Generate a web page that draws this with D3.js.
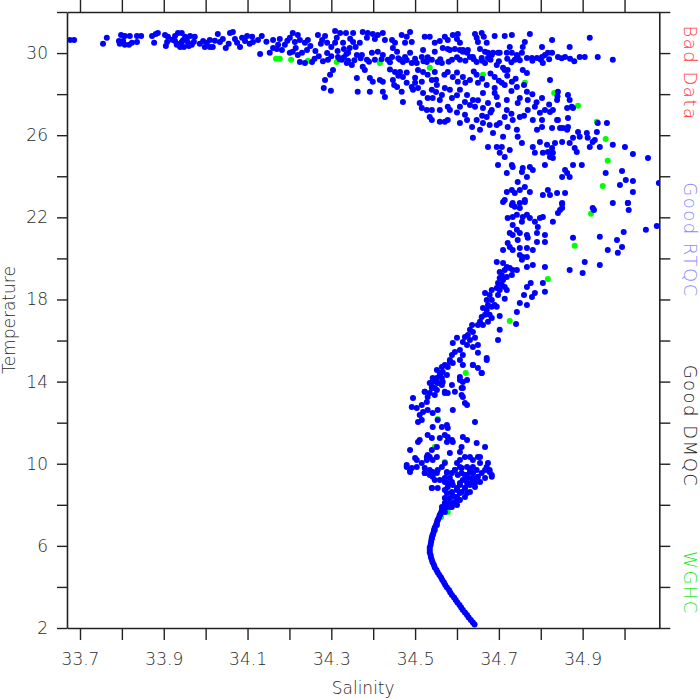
<!DOCTYPE html>
<html><head><meta charset="utf-8">
<script src="https://cdn.jsdelivr.net/npm/d3@7"></script>
<style>
body{margin:0;background:#fff;}
svg text{font-family:"DejaVu Sans",sans-serif;font-weight:200;}
</style></head><body>
<svg id="chart" width="700" height="700"></svg>
<script>
// ---------- data ----------
const salinityDomain = [33.669, 35.083];
const temperatureDomain = [2, 32];
const salinityTicks = [33.7,33.8,33.9,34.0,34.1,34.2,34.3,34.4,34.5,34.6,34.7,34.8,34.9,35.0];
const salinityLabels = [33.7,33.9,34.1,34.3,34.5,34.7,34.9];
const temperatureTicks = [2,4,6,8,10,12,14,16,18,20,22,24,26,28,30,32];
const temperatureLabels = [2,6,10,14,18,22,26,30];
const qcLabels = ["Bad Data","Good RTQC","Good DMQC","WGHC"];
const qcColors = ["#ff3b3b","#8a8aff","#222222","#1ee81e"];
const xTitle = "Salinity";
const yTitle = "Temperature";

// surface mixed layer (blue)
const surfaceLayer = [[33.676,30.64],[33.686,30.64],[33.755,30.45],[33.764,30.74],[33.798,30.88],[33.807,30.83],[33.819,30.83],[33.793,30.59],[33.795,30.45],[33.807,30.40],[33.817,30.40],[33.824,30.50],[33.803,30.59],[33.836,30.83],[33.846,30.83],[33.836,30.54],[33.872,30.83],[33.881,30.93],[33.886,30.98],[33.877,30.50],[33.903,30.88],[33.910,30.79],[33.908,30.54],[33.905,30.35],[33.927,30.83],[33.934,30.98],[33.943,30.98],[33.927,30.59],[33.931,30.40],[33.939,30.30],[33.948,30.30],[33.943,30.54],[33.955,30.69],[33.958,30.50],[33.967,30.40],[33.974,30.79],[33.963,30.83],[33.951,30.79],[33.994,30.59],[34.003,30.50],[33.998,30.30],[34.010,30.30],[34.017,30.30],[34.010,30.64],[34.029,30.93],[34.034,30.54],[34.041,30.69],[34.048,30.25],[34.058,30.98],[34.065,31.03],[34.070,30.69],[34.082,30.30],[34.087,30.74],[34.094,30.59],[34.099,30.83],[34.111,30.79],[34.113,30.54],[34.125,30.64],[34.134,30.83],[34.130,29.96],[34.153,30.01],[34.161,30.25],[34.161,30.64],[34.173,30.40],[34.177,30.69],[34.182,30.15],[34.189,30.40],[34.201,30.74],[34.208,30.98],[34.213,30.54],[34.220,30.88],[34.225,30.64],[34.201,30.01],[34.208,30.06],[34.220,29.91],[34.230,30.01],[34.237,30.50],[34.244,30.64],[34.242,30.15],[34.225,29.57],[34.237,29.52],[34.254,29.57],[34.268,30.88],[34.278,30.64],[34.285,30.83],[34.290,30.50],[34.292,29.67],[34.309,31.08],[34.309,30.50],[34.313,30.74],[34.304,29.18],[34.297,28.94],[34.285,28.69],[34.282,28.30],[34.299,28.16],[34.321,30.98],[34.328,30.50],[34.335,30.98],[34.340,30.01],[34.316,29.81],[34.325,29.67],[34.337,29.52],[34.349,29.42],[34.352,30.98],[34.352,30.54],[34.361,29.91],[34.361,28.79],[34.363,28.11],[34.344,30.25],[33.938,30.45],[33.946,30.62],[33.960,30.35],[33.920,30.65],[33.972,30.55],[33.986,30.45],[34.022,30.60],[34.055,30.45],[34.075,30.50],[34.105,30.45],[34.145,30.55],[34.170,30.20],[34.195,30.60],[34.215,30.25],[34.250,30.35],[34.262,30.10],[34.275,30.45],[34.300,30.30],[34.330,30.20],[34.345,30.70],[34.358,30.30],[34.270,29.85],[34.300,29.85],[34.330,29.80],[34.355,29.65],[34.290,30.00],[34.315,30.10],[34.336,29.95],
[34.375,31.03],[34.387,30.98],[34.399,30.93],[34.411,30.88],[34.423,30.98],[34.385,30.74],[34.404,30.69],[34.428,30.64],[34.368,30.50],[34.445,30.64],[34.452,30.50],[34.468,30.88],[34.480,30.79],[34.488,31.03],[34.476,30.50],[34.492,30.54],[34.523,30.79],[34.535,30.79],[34.547,30.50],[34.559,30.59],[34.571,30.79],[34.578,30.64],[34.590,30.88],[34.602,30.93],[34.600,30.69],[34.607,30.50],[34.566,30.25],[34.578,30.20],[34.595,30.20],[34.607,30.15],[34.614,30.06],[34.624,30.01],[34.631,29.81],[34.643,30.93],[34.647,30.74],[34.650,30.54],[34.659,30.98],[34.664,30.79],[34.671,30.50],[34.655,30.20],[34.667,30.06],[34.674,30.01],[34.690,30.83],[34.714,30.83],[34.731,30.88],[34.774,30.93],[34.762,30.54],[34.726,30.30],[34.803,30.30],[34.827,30.64],[34.869,30.30],[34.917,30.74],[34.686,30.01],[34.698,30.01],[34.719,30.01],[34.731,30.01],[34.743,29.91],[34.755,30.01],[34.767,29.76],[34.779,29.76],[34.791,29.76],[34.803,29.81],[34.810,29.91],[34.817,30.01],[34.827,30.01],[34.805,29.52],[34.841,29.81],[34.858,29.81],[34.893,29.81],[34.905,29.81],[34.936,29.81],[34.972,29.67],[34.757,30.30],
[34.26,29.72],[34.28,29.60],[34.32,29.70],[34.34,29.62],[34.37,29.75],[34.39,29.58],[34.42,29.70],[34.44,29.55],[34.46,29.75],[34.48,29.66],[34.50,29.72],[34.52,29.60],[34.53,29.80],[34.56,29.70],[34.58,29.58],[34.60,29.80],[34.62,29.62],[34.64,29.70],[34.66,29.62],[34.68,29.68],[34.70,29.60],[34.72,29.72],[34.73,29.55],[34.75,29.65],[34.78,29.62],[34.80,29.68],[34.82,29.70],[34.85,29.75],[34.87,29.72],[34.88,29.60]];

// upper thermocline spread (blue)
const upperLayer = [[34.373,29.91],[34.385,29.67],[34.380,29.18],[34.397,30.01],[34.404,29.67],[34.411,30.06],[34.423,29.91],[34.435,29.67],[34.445,29.81],[34.447,30.25],[34.457,30.06],[34.464,29.67],[34.471,29.57],[34.476,29.81],[34.488,30.01],[34.492,29.52],[34.504,29.52],[34.516,29.81],[34.519,30.15],[34.528,29.57],[34.540,29.67],[34.547,30.06],[34.554,29.57],[34.564,29.52],[34.583,30.15],[34.588,29.67],[34.607,29.67],[34.614,30.15],[34.626,30.15],[34.638,29.81],[34.647,29.57],[34.659,29.76],[34.667,29.52],[34.674,29.76],[34.683,29.91],[34.695,29.42],[34.702,30.01],[34.710,29.28],[34.721,29.18],[34.738,29.67],[34.745,29.81],[34.757,29.18],[34.767,29.03],
[34.375,29.33],[34.392,28.79],[34.399,28.60],[34.416,28.69],[34.423,28.60],[34.392,28.11],[34.423,28.11],[34.428,27.86],[34.447,28.69],[34.452,29.08],[34.457,28.35],[34.464,29.08],[34.468,28.11],[34.471,28.84],[34.471,27.62],[34.480,28.55],[34.492,28.35],[34.495,28.21],[34.507,29.18],[34.507,28.30],[34.511,27.57],[34.516,27.33],[34.519,29.08],[34.519,28.06],[34.528,27.23],[34.530,27.81],[34.540,28.69],[34.540,28.21],[34.542,27.81],[34.547,29.08],[34.552,28.45],[34.559,27.72],[34.564,27.96],[34.571,28.30],[34.578,29.08],[34.583,28.21],[34.588,27.81],[34.578,27.38],[34.590,28.84],[34.602,28.60],[34.607,28.21],[34.607,27.38],[34.614,28.84],[34.619,27.62],[34.624,27.96],[34.631,28.69],[34.631,27.47],[34.638,27.72],[34.643,27.38],[34.647,28.94],[34.650,28.55],[34.662,27.33],[34.662,28.06],[34.671,28.45],[34.674,27.57],[34.683,27.23],[34.690,28.84],[34.690,28.30],[34.695,27.86],[34.698,27.47],[34.707,28.55],[34.714,29.18],[34.714,28.45],[34.719,27.72],[34.719,27.23],[34.731,28.60],[34.743,28.35],[34.745,27.57],[34.750,27.81],[34.767,28.11],[34.769,27.72],[34.769,27.23],[34.781,26.74],[34.786,27.38],[34.798,27.09],[34.803,27.81],[34.810,27.23],[34.822,28.69],[34.829,27.23],[34.839,27.72],[34.841,28.11],[34.839,26.74],[34.865,27.96],[34.869,27.72],[34.863,27.33],[34.877,27.33],[34.803,26.74],[34.874,27.38],[34.516,28.60],[34.540,26.74],[34.559,27.23],[34.540,27.23],
[34.44,29.20],[34.46,28.90],[34.48,29.05],[34.50,28.80],[34.53,28.95],[34.55,28.70],[34.57,28.95],[34.60,29.05],[34.62,28.55],[34.64,29.10],[34.66,28.75],[34.68,29.00],[34.70,28.65],[34.72,28.90],[34.74,28.75],[34.45,28.45],[34.50,28.55],[34.55,28.10],[34.60,27.95],[34.65,27.70],[34.69,28.05],[34.73,28.15],[34.76,28.45],[34.78,28.00],[34.79,27.60],[34.82,27.50],[34.84,27.90],[34.73,27.05],[34.76,26.95],[34.68,27.10],[34.66,26.95],[34.60,27.10]];

// thermocline (blue)
const thermocline = [[34.535,26.89],[34.559,26.65],[34.571,26.65],[34.578,26.74],[34.583,27.23],[34.607,26.60],[34.619,26.99],[34.624,26.74],[34.636,26.40],[34.638,25.87],[34.647,26.74],[34.655,26.26],[34.662,26.60],[34.671,26.89],[34.674,25.43],[34.678,26.50],[34.686,26.11],[34.695,25.43],[34.695,26.50],[34.702,25.14],[34.707,25.43],[34.698,24.55],[34.702,26.60],[34.710,25.92],[34.714,24.94],[34.714,26.89],[34.719,24.16],[34.721,26.40],[34.726,25.28],[34.731,24.55],[34.733,24.45],[34.733,26.74],[34.743,26.26],[34.745,25.92],[34.750,26.89],[34.745,23.72],[34.755,25.62],[34.755,24.21],[34.757,24.40],[34.750,23.33],[34.719,23.23],[34.731,23.33],[34.738,23.19],[34.733,22.70],[34.714,22.85],[34.762,23.48],[34.767,23.96],[34.774,23.23],[34.762,22.85],[34.774,24.45],[34.781,24.31],[34.781,25.43],[34.786,25.14],[34.791,26.26],[34.798,25.67],[34.803,26.40],[34.805,25.14],[34.810,24.55],[34.815,25.53],[34.817,25.18],[34.822,24.94],[34.827,25.38],[34.829,25.14],[34.827,26.35],[34.834,25.62],[34.829,24.89],[34.822,27.13],[34.841,26.74],[34.846,26.35],[34.851,25.67],[34.853,26.35],[34.863,26.26],[34.865,26.40],[34.865,26.84],[34.869,25.62],[34.877,25.87],[34.889,26.16],[34.893,25.92],[34.886,25.18],[34.877,24.55],[34.881,25.38],[34.858,24.31],[34.863,24.16],[34.869,23.96],[34.851,23.96],[34.839,23.19],[34.817,23.33],[34.822,23.09],[34.805,23.09],[34.851,22.70],[34.858,23.19],[34.898,24.55],[34.910,26.11],[34.912,25.87],[34.917,25.43],[34.924,25.67],[34.929,25.77],[34.934,26.16],[34.936,26.60],[34.941,25.43],[34.958,26.60],[34.972,25.53],[35.001,25.43],[35.020,25.09],[35.056,24.89],[34.955,24.16],[34.994,24.26],[34.989,23.58],[35.003,23.82],[35.020,23.77],[35.020,23.23],[35.008,22.70],[35.082,23.67],[34.972,22.70],[34.924,22.46],[34.851,22.46],
[34.710,22.75],[34.731,22.60],[34.738,22.51],[34.750,22.70],[34.762,22.75],[34.750,22.46],[34.721,21.97],[34.733,22.02],[34.743,22.12],[34.757,22.02],[34.767,22.12],[34.774,21.97],[34.755,21.78],[34.733,21.63],[34.743,21.39],[34.726,21.24],[34.733,21.14],[34.750,21.24],[34.745,20.90],[34.767,21.14],[34.769,21.00],[34.721,20.75],[34.726,20.56],[34.733,20.41],[34.710,20.41],[34.750,20.51],[34.767,20.51],[34.750,20.17],[34.755,19.93],[34.757,20.07],[34.767,20.07],[34.695,19.83],[34.710,19.78],[34.719,19.58],[34.714,19.44],[34.726,19.53],[34.733,19.44],[34.743,19.44],[34.731,19.19],[34.702,19.34],[34.707,19.19],[34.702,19.05],[34.710,18.95],[34.719,19.10],[34.698,18.80],[34.707,18.71],[34.714,18.61],[34.695,18.56],[34.702,18.46],[34.719,18.46],[34.683,18.46],[34.667,18.32],[34.678,18.22],[34.698,18.22],[34.714,18.03],[34.671,17.98],[34.683,17.98],[34.674,17.73],[34.671,17.49],[34.683,17.64],[34.690,17.73],[34.662,17.59],[34.667,17.25],[34.659,17.15],[34.678,17.25],[34.683,17.10],[34.674,16.91],[34.655,16.91],[34.650,16.76],[34.636,16.76],[34.662,16.76],[34.631,16.52],[34.638,16.42],[34.626,16.27],[34.619,16.17],[34.631,16.03],[34.643,16.13],[34.614,15.93],[34.624,15.78],[34.638,15.69],[34.600,16.13],[34.590,15.88],[34.595,15.44],[34.607,15.54],[34.614,15.30],[34.588,15.30],[34.583,15.05],[34.590,14.91],[34.607,15.05],[34.578,14.71],[34.564,14.71],[34.566,14.47],[34.576,14.32],[34.559,14.32],[34.552,14.18],[34.542,13.98],[34.554,13.93],[34.540,13.74],[34.547,13.69],[34.564,13.84],[34.566,13.98],[34.523,13.50],[34.535,13.45],[34.547,13.35],[34.571,13.45],[34.614,13.69],[34.607,14.23],[34.614,13.98],[34.638,14.81],[34.659,14.42],[34.650,15.40],[34.671,15.15],[34.650,15.78],[34.695,17.64],[34.702,16.52],[34.698,16.03],[34.650,14.66],[34.611,13.35],
[34.702,17.20],[34.741,16.81],[34.743,17.39],[34.750,17.83],[34.767,17.73],[34.760,18.22],[34.779,18.12],[34.786,18.32],[34.767,18.61],[34.776,18.80],[34.805,18.80],[34.810,18.37],[34.781,19.68],[34.767,19.58],[34.810,19.58],[34.781,20.41],[34.810,20.80],[34.810,21.14],[34.791,21.24],[34.791,20.80],[34.793,21.53],[34.786,21.78],[34.798,21.97],[34.805,22.02],[34.829,21.78],[34.841,22.21],[34.846,22.36],[34.851,22.65],[34.877,21.00],[34.869,19.44],[34.900,19.29],[34.905,19.83],[34.941,19.68],[34.941,21.05],[34.960,20.41],[34.984,20.27],[34.982,20.90],[34.994,20.56],[34.998,21.29],[35.008,22.70],[35.010,22.36],[35.051,21.39],[35.077,21.58],[34.927,22.36]];

// intermediate water (blue)
const intermediate = [[34.571,14.81],[34.583,14.96],[34.614,14.81],[34.638,14.81],[34.659,14.42],[34.671,15.05],[34.552,14.57],[34.559,14.42],[34.542,14.18],[34.552,13.98],[34.564,14.18],[34.535,13.93],[34.540,13.69],[34.552,13.59],[34.571,13.50],[34.578,13.45],[34.523,13.50],[34.530,13.25],[34.528,13.01],[34.495,13.20],[34.492,12.76],[34.504,12.72],[34.516,12.86],[34.519,12.52],[34.530,12.62],[34.542,12.47],[34.511,12.37],[34.507,12.03],[34.516,12.13],[34.554,12.62],[34.588,13.84],[34.595,13.50],[34.611,13.69],[34.607,14.08],[34.624,14.08],[34.590,12.62],[34.554,12.13],[34.564,11.79],[34.576,11.89],[34.578,11.74],[34.614,13.25],[34.619,12.96],[34.624,12.86],[34.542,11.79],[34.530,11.40],[34.540,11.25],[34.507,11.06],[34.511,11.16],[34.559,11.25],[34.571,11.40],[34.578,11.30],[34.576,11.06],[34.588,11.16],[34.590,11.06],[34.614,11.30],[34.624,11.16],[34.611,10.82],[34.643,12.03],[34.647,11.01],[34.667,10.82],[34.488,10.67],[34.552,10.82],[34.583,10.52],[34.540,10.67],[34.530,10.43],[34.607,10.57],[34.619,10.33],[34.607,10.18],[34.631,10.33],[34.638,10.18],[34.650,10.33],[34.655,10.04],[34.671,9.84],[34.678,9.70],[34.674,10.04],[34.683,9.36],[34.667,9.31],[34.504,10.18],[34.516,10.04],[34.480,9.84],[34.492,9.79],[34.488,9.60],[34.504,9.84],[34.523,9.79],[34.528,10.18],[34.535,10.33],[34.523,9.55],[34.535,9.70],[34.542,9.36],[34.554,9.70],[34.552,9.55],[34.564,9.84],[34.571,10.04],[34.576,9.60],[34.559,9.21],[34.571,9.31],[34.540,8.82],[34.554,8.82],[34.578,9.06],[34.588,9.55],[34.595,9.70],[34.600,10.04],[34.602,9.45],[34.611,9.79],[34.624,9.84],[34.619,9.45],[34.631,9.60],[34.638,9.55],[34.647,9.70],[34.636,9.31],[34.650,9.36],[34.659,9.55],[34.643,9.06],[34.631,8.96],[34.619,8.82],[34.607,9.06],[34.600,8.82],[34.588,8.62],[34.576,8.57],[34.571,8.72],[34.590,8.96],[34.611,8.62],[34.624,8.57],[34.600,8.38],[34.583,8.33],[34.571,8.33],[34.578,8.14],[34.590,8.09],[34.602,8.23],[34.571,8.09],[34.576,7.89],[34.571,7.65],[34.559,7.50],[34.554,7.26],[34.552,7.02],[34.547,6.77],[34.542,6.53],[34.540,6.38],[34.564,7.89],[34.588,7.89],
[34.480,9.94],[34.488,9.70],[34.500,10.28],[34.528,10.33],[34.542,10.18],[34.552,10.33],[34.523,9.55],[34.535,9.45],[34.542,9.60],[34.547,9.21],[34.540,8.82],[34.571,9.11],[34.576,9.55],[34.583,9.31],[34.600,8.72],[34.607,8.96],[34.614,9.21],[34.624,9.45],[34.631,9.70],[34.638,9.84],[34.655,10.33],[34.678,9.60],[34.683,9.45],[34.655,9.11],[34.643,8.87],[34.631,8.62],[34.619,8.38],[34.607,8.23],[34.595,8.09],[34.583,7.89],[34.600,7.99],[34.647,9.31],[34.667,9.70],[34.607,9.84],[34.611,9.55],[34.595,9.70],[34.588,8.57],[34.576,8.23],[34.571,7.89],[34.624,9.06],[34.636,9.11],[34.619,8.82],[34.607,8.57],[34.595,8.38],[34.578,8.87],[34.588,9.11],[34.638,9.55],[34.626,9.31]];

// deep water curve (blue)
const deepCurve = [[34.571,7.99],[34.568,7.87],[34.564,7.75],[34.562,7.63],[34.559,7.50],[34.557,7.38],[34.554,7.26],[34.552,7.14],[34.550,7.02],[34.547,6.90],[34.545,6.77],[34.544,6.65],[34.542,6.53],[34.540,6.41],[34.539,6.29],[34.538,6.16],[34.537,6.04],[34.535,5.92],[34.535,5.80],[34.535,5.68],[34.537,5.56],[34.538,5.43],[34.540,5.31],[34.542,5.19],[34.545,5.07],[34.547,4.95],[34.551,4.83],[34.554,4.70],[34.558,4.58],[34.562,4.46],[34.565,4.34],[34.569,4.22],[34.572,4.09],[34.576,3.97],[34.581,3.85],[34.584,3.73],[34.588,3.61],[34.593,3.49],[34.597,3.36],[34.601,3.24],[34.606,3.12],[34.610,3.00],[34.614,2.88],[34.619,2.76],[34.624,2.63],[34.628,2.51],[34.633,2.39],[34.638,2.27],[34.642,2.17]];

// WGHC (green)
const wghcPoints = [[34.168,29.72],[34.177,29.72],[34.204,29.67],[34.244,29.62],[34.313,29.57],[34.416,29.52],[34.535,29.28],[34.662,28.94],[34.762,28.55],[34.832,28.06],[34.889,27.43],[34.934,26.65],[34.955,25.82],[34.960,24.75],[34.948,23.53],[34.920,22.17],[34.881,20.61],[34.817,19.00],[34.726,16.95],[34.621,14.42],[34.554,12.18],[34.547,10.82],[34.571,10.09],[34.595,8.09],[34.578,7.65],[34.590,8.14],[34.562,7.40]];

// ---------- layout ----------
const L = 67, R = 659.3, T = 12, B = 628;
const svg = d3.select("#chart");
const x = d3.scaleLinear().domain(salinityDomain).range([L, R]);
const y = d3.scaleLinear().domain(temperatureDomain).range([B, T]);

svg.append("defs").append("clipPath").attr("id","clip")
  .append("rect").attr("x",L).attr("y",T).attr("width",R-L).attr("height",B-T);

const plot = svg.append("g").attr("clip-path","url(#clip)");
plot.selectAll("circle.g").data(wghcPoints).join("circle")
  .attr("class","g").attr("cx",d=>x(d[0])).attr("cy",d=>y(d[1])).attr("r",3).attr("fill","#00ff00");
const blue = surfaceLayer.concat(upperLayer, thermocline, intermediate, deepCurve);
plot.selectAll("circle.b").data(blue).join("circle")
  .attr("class","b").attr("cx",d=>x(d[0])).attr("cy",d=>y(d[1])).attr("r",3).attr("fill","#0000ff");

const fmt1 = v => salinityLabels.some(l=>Math.abs(l-v)<1e-6) ? d3.format(".1f")(v) : "";
const fmtT = v => temperatureLabels.includes(v) ? String(v) : "";

function style(g){
  g.selectAll("path.domain").attr("stroke","#222").attr("stroke-width",1.6);
  g.selectAll(".tick line").attr("stroke","#222").attr("stroke-width",1.4);
  g.selectAll("text").attr("fill","#2a2a2a").style("font-size","17px");
}
svg.append("g").attr("transform",`translate(0,${B})`)
  .call(d3.axisBottom(x).tickValues(salinityTicks).tickFormat(fmt1).tickSize(12).tickSizeOuter(0).tickPadding(13)).call(style);
svg.append("g").attr("transform",`translate(0,${T})`)
  .call(d3.axisTop(x).tickValues(salinityTicks).tickFormat("").tickSize(12).tickSizeOuter(0)).call(style);
svg.append("g").attr("transform",`translate(${L},0)`)
  .call(d3.axisLeft(y).tickValues(temperatureTicks).tickFormat(fmtT).tickSize(10).tickSizeOuter(0).tickPadding(9)).call(style);
svg.append("g").attr("transform",`translate(${R},0)`)
  .call(d3.axisRight(y).tickValues(temperatureTicks).tickFormat("").tickSize(11).tickSizeOuter(0)).call(style);
svg.selectAll("g").attr("font-family",null);

svg.append("text").attr("x",(L+R)/2).attr("y",694).attr("text-anchor","middle")
  .attr("fill","#2a2a2a").style("font-size","17px").text(xTitle);
svg.append("text").attr("transform",`translate(15,${(T+B)/2}) rotate(-90)`).attr("text-anchor","middle")
  .attr("fill","#2a2a2a").style("font-size","17px").text(yTitle);

const legendY = [73, 240, 426, 583];
qcLabels.forEach((lab,i)=>{
  svg.append("text").attr("transform",`translate(684,${legendY[i]}) rotate(90)`)
    .attr("text-anchor","middle").attr("fill",qcColors[i])
    .style("font-size","18px").style("letter-spacing","1.5px").text(lab);
});
</script>
</body></html>
